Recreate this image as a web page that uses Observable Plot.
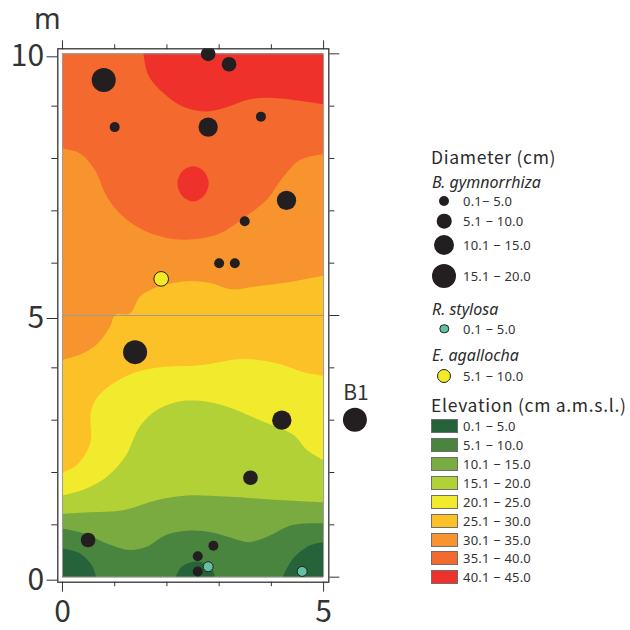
<!DOCTYPE html>
<html>
<head>
<meta charset="utf-8">
<script src="https://cdn.jsdelivr.net/npm/d3@7"></script>
<script src="https://cdn.jsdelivr.net/npm/@observablehq/plot@0.6"></script>
<style>
html,body{margin:0;padding:0;background:#fff}
#wrap{position:relative;width:630px;height:630px;overflow:hidden;font-family:"Noto Sans CJK JP","Noto Sans",sans-serif;color:#2b2b2b}
#wrap svg{position:absolute;left:0;top:0}
#legend{position:absolute;left:431px;top:0;width:199px}
.row{position:absolute;left:0;height:0;width:199px;white-space:nowrap;line-height:1}
.row>*{position:absolute}
.head{font-size:17.5px;letter-spacing:.7px;left:0;top:0;transform:translateY(-50%)}
.sp{font-size:16px;font-style:italic;left:1px;top:0;transform:translateY(-50%);font-family:"Noto Sans",sans-serif}
.lab{font-size:13px;letter-spacing:.2px;left:32px;top:0;transform:translateY(-50%);color:#333;font-family:"Noto Sans",sans-serif}
.dot{border-radius:50%;top:0;left:13.3px;transform:translate(-50%,-50%);box-sizing:border-box}
.sw{left:0;width:27px;height:14px;top:0;transform:translateY(-50%);box-sizing:border-box;border:1.5px solid #6e6e6e}
</style>
</head>
<body>
<div id="wrap"><div id="legend"></div></div>
<script>
// Elevation classes (cm a.m.s.l.)
const elevationLabels = ["0.1 − 5.0","5.1 − 10.0","10.1 − 15.0","15.1 − 20.0","20.1 − 25.0","25.1 − 30.0","30.1 − 35.0","35.1 − 40.0","40.1 − 45.0"];
const elevationColors = ["#26633a","#4a853f","#7aab40","#b1d136","#f2ea2c","#fdc128","#f8942d","#f4692d","#ee322b"];

// Contour lines: [x m, y m]
const top40 = [[1.56,10],[1.65,9.59],[1.94,9.24],[2.32,8.98],[2.77,8.89],[3.15,8.97],[3.54,9.11],[3.92,9.15],[4.43,9.11],[5,9.03]];
const blob40 = [[2.2,7.52],[2.29,7.75],[2.5,7.85],[2.71,7.75],[2.8,7.52],[2.71,7.29],[2.5,7.18],[2.29,7.29]];
const top35 = [[0,8.18],[0.34,8.09],[0.63,7.77],[0.86,7.26],[1.17,6.88],[1.62,6.59],[2.13,6.45],[2.58,6.45],[3.03,6.56],[3.47,6.85],[3.92,7.2],[4.24,7.64],[4.56,7.96],[5,8.07]];
const top30 = [[0,4.14],[0.34,4.24],[0.66,4.43],[0.92,4.78],[1.02,5],[1.3,5.03],[1.49,5.35],[1.69,5.48],[2.13,5.61],[2.45,5.65],[2.84,5.61],[3.25,5.49],[3.67,5.54],[4.24,5.61],[5,5.75]];
const top25 = [[0,1.99],[0.28,2.13],[0.54,2.55],[0.55,3.12],[0.66,3.41],[0.98,3.69],[1.37,3.89],[1.88,4],[2.64,4.04],[3.47,4.16],[4.11,4.08],[4.69,3.89],[5,3.84]];
const top20 = [[0,1.55],[0.41,1.66],[0.86,1.91],[1.21,2.29],[1.49,2.87],[1.81,3.18],[2.2,3.34],[2.64,3.36],[3.15,3.25],[3.79,2.99],[4.43,2.71],[4.69,2.42],[5,2.23]];
const top15 = [[0,1.2],[0.54,1.23],[1.17,1.27],[1.81,1.46],[2.39,1.55],[3.15,1.53],[3.92,1.48],[5,1.42]];
const top10 = [[0,0.92],[0.41,0.83],[0.92,0.61],[1.3,0.51],[1.62,0.57],[2,0.8],[2.45,0.88],[2.9,0.84],[3.28,0.73],[3.57,0.66],[3.92,0.76],[4.43,0.99],[5,1.02]];
const top5a = [[0,0.54],[0.34,0.45],[0.57,0.22],[0.65,0]];
const top5b = [[2.18,0],[2.29,0.19],[2.58,0.29],[2.84,0.19],[2.93,0]];
const top5c = [[4.23,0],[4.43,0.35],[4.75,0.6],[5,0.66]];
const plotCorners = [[0,10],[5,10]];

// Trees: [x m, y m, diameter class midpoint cm]
const gymnorrhiza = [[0.79,9.5,17.5],[2.79,10,7.5],[3.19,9.8,7.5],[1,8.6,2.5],[2.79,8.6,12.5],[3.8,8.8,2.5],[4.29,7.2,12.5],[3.49,6.8,2.5],[3,6,2.5],[3.3,6,2.5],[1.39,4.3,17.5],[4.2,3,12.5],[3.6,1.9,7.5],[0.49,0.71,7.5],[2.89,0.6,2.5],[2.59,0.4,2.5],[2.59,0.11,2.5]];
const stylosa = [[2.79,0.2,2.5],[4.59,0.11,2.5]];
const agallocha = [[1.89,5.7,7.5]];
const b1Tree = [[5.6,3.01,17.5]];
const b1Label = [[5.62,3.52,"B1"]];
const unitLabel = [[-0.29,10.64,"m"]];

const xMajor = [0,5], xMinor = [1,2,3,4], yMajor = [0,5,10], yMinor = [1,2,3,4,6,7,8,9];
const treeDark = "#231f20", stylosaColor = "#62c0a4", agallochaColor = "#f2ea27";

const band = (pts, fill) => Plot.areaY(pts, {x: d => d[0], y2: d => d[1], fill, curve: "catmull-rom"});
const trees = (pts, fill, extra = {}) => Plot.dot(pts, {x: d => d[0], y: d => d[1], r: d => d[2], fill, ...extra});
const ink = "#333";

const chart = Plot.plot({
  width: 630, height: 630,
  marginLeft: 57.3, marginRight: 301.7, marginTop: 48.3, marginBottom: 48.3,
  style: {fontFamily: '"Noto Sans CJK JP","Noto Sans",sans-serif', background: "transparent", color: ink},
  x: {domain: [-0.09, 5.1]},
  y: {domain: [-0.096, 10.096]},
  r: {type: "linear", domain: [2.5, 17.5], range: [5, 12]},
  marks: [
    Plot.areaY(plotCorners, {x: d => d[0], y2: d => d[1], fill: elevationColors[7]}),
    Plot.areaY(top40, {x: d => d[0], y1: d => d[1], y2: 10, fill: elevationColors[8], curve: "catmull-rom"}),
    Plot.line(blob40, {x: d => d[0], y: d => d[1], fill: elevationColors[8], stroke: "none", curve: "catmull-rom-closed"}),
    band(top35, elevationColors[6]),
    band(top30, elevationColors[5]),
    band(top25, elevationColors[4]),
    band(top20, elevationColors[3]),
    band(top15, elevationColors[2]),
    band(top10, elevationColors[1]),
    band(top5a, elevationColors[0]),
    band(top5b, elevationColors[0]),
    band(top5c, elevationColors[0]),
    Plot.ruleY(yMajor, {x1: 0, x2: 5, stroke: "#9a9a9a", strokeWidth: 1}),
    Plot.ruleX(xMajor, {y1: 0, y2: 10, stroke: "#9a9a9a", strokeWidth: 1}),
    trees(gymnorrhiza, treeDark, {clip: true}),
    trees(stylosa, stylosaColor, {stroke: treeDark, strokeWidth: 1}),
    trees(agallocha, agallochaColor, {stroke: treeDark, strokeWidth: 1}),
    trees(b1Tree, treeDark),
    Plot.text(b1Label, {x: d => d[0], y: d => d[1], text: d => d[2], fontSize: 21, fill: ink}),
    Plot.text(unitLabel, {x: d => d[0], y: d => d[1], text: d => d[2], fontSize: 28.5, fontFamily: '"Noto Sans",sans-serif', fill: ink}),
    Plot.frame({stroke: ink, strokeWidth: 1.3}),
    Plot.axisX({anchor: "bottom", ticks: xMajor, tickSize: 10, tickPadding: 8, fontSize: 30, label: null, tickFormat: d => String(d)}),
    Plot.axisX({anchor: "bottom", ticks: xMinor, tickSize: 4.5, tickFormat: () => "", label: null}),
    Plot.axisX({anchor: "top", ticks: xMajor, tickSize: 9, tickFormat: () => "", label: null}),
    Plot.axisX({anchor: "top", ticks: xMinor, tickSize: 5, tickFormat: () => "", label: null}),
    Plot.axisY({anchor: "left", ticks: yMajor, tickSize: 10.7, tickPadding: 3, fontSize: 30, label: null, tickFormat: d => String(d), dy: 3}),
    Plot.axisY({anchor: "left", ticks: yMinor, tickSize: 6, tickFormat: () => "", label: null}),
    Plot.axisY({anchor: "right", ticks: yMajor, tickSize: 10, tickFormat: () => "", label: null}),
    Plot.axisY({anchor: "right", ticks: yMinor, tickSize: 5, tickFormat: () => "", label: null})
  ]
});
document.getElementById("wrap").prepend(chart);

// Legend rows
const legendRows = [
  ["head","Diameter (cm)"],
  ["sp","B. gymnorrhiza"],
  ["dot","0.1− 5.0",5,treeDark,"none"],
  ["dot","5.1 − 10.0",7.3,treeDark,"none"],
  ["dot","10.1 − 15.0",10,treeDark,"none"],
  ["dot","15.1 − 20.0",12,treeDark,"none"],
  ["sp","R. stylosa"],
  ["dot","0.1 − 5.0",4.7,stylosaColor,treeDark],
  ["sp","E. agallocha"],
  ["dot","5.1 − 10.0",7,agallochaColor,treeDark],
  ["head","Elevation (cm a.m.s.l.)"]
];
const rowCentres = [157,182,201,221,245,276,309,329,355,376,405];
const swatchCentres = [425.5,444.5,463.5,482.5,501.5,520.5,539.5,558,577];
const legend = document.getElementById("legend");
function addRow(cls, text, centre, draw){
  const row = document.createElement("div");
  row.className = "row"; row.style.top = centre + "px";
  if (draw) draw(row);
  const s = document.createElement("span");
  s.className = cls; s.textContent = text;
  row.appendChild(s);
  legend.appendChild(row);
}
legendRows.forEach(([type, text, r, fill, stroke], i) => {
  if (type === "dot") addRow("lab", text, rowCentres[i], row => {
    const d = document.createElement("span");
    d.className = "dot";
    d.style.cssText = `width:${2*r}px;height:${2*r}px;background:${fill};` + (stroke !== "none" ? `border:1px solid ${stroke};` : "");
    row.appendChild(d);
  });
  else addRow(type, text, rowCentres[i]);
});
elevationLabels.forEach((t, i) => addRow("lab", t, swatchCentres[i], row => {
  const b = document.createElement("span");
  b.className = "sw"; b.style.background = elevationColors[i];
  row.appendChild(b);
}));
</script>
</body>
</html>
